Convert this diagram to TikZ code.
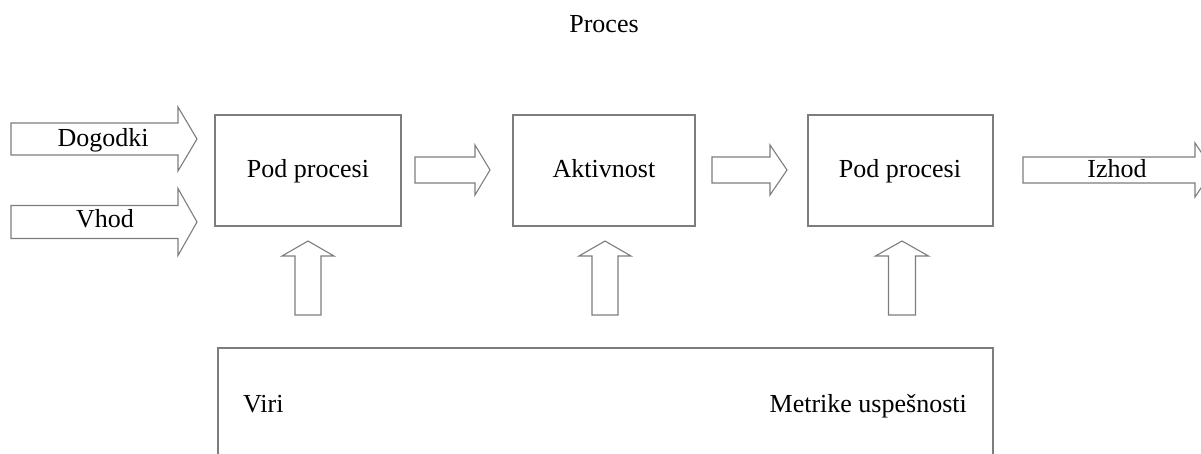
\documentclass[tikz,border=0pt]{standalone}
\usepackage{fontspec}
\setmainfont{Liberation Serif}
\definecolor{edge}{RGB}{125,125,125}
\tikzset{
  blk/.style={draw=edge, line width=1.1pt, fill=white, line join=miter},
  boxnode/.style={draw=edge, line width=1.1pt, fill=white},
  lbl/.style={font=\fontsize{26}{30}\selectfont, inner sep=0pt, anchor=base}
}
% right-pointing block arrow: shaft x0..x1, tip x2, centre y, half shaft, half head
\newcommand\rblock[6]{%
  \draw[blk] (#1,{#4-#5}) -- (#2,{#4-#5}) -- (#2,{#4-#6}) -- (#3,#4)
    -- (#2,{#4+#6}) -- (#2,{#4+#5}) -- (#1,{#4+#5}) -- cycle;}
% upward block arrow: centre x, shaft bottom, head base, tip, half shaft, half head
\newcommand\ublock[6]{%
  \draw[blk] ({#1-#5},#2) -- ({#1-#5},#3) -- ({#1-#6},#3) -- (#1,#4)
    -- ({#1+#6},#3) -- ({#1+#5},#3) -- ({#1+#5},#2) -- cycle;}
\begin{document}
\begin{tikzpicture}[x=1pt,y=-1pt]
  \useasboundingbox (0,0) rectangle (1201,454);

  % title
  \node[lbl] (title) at (604,33) {Proces};

  % inputs
  \rblock{11}{178}{197}{139}{16}{32}
  \node[lbl] (dogodki) at (103,147) {Dogodki};
  \rblock{11}{178}{197}{222}{16.5}{33.5}
  \node[lbl] (vhod) at (105,228) {Vhod};

  % process boxes
  \draw[boxnode] (215,115) rectangle (401,226);
  \coordinate (b1) at (308,170);
  \node[lbl] (t1) at (308,178) {Pod procesi};

  \draw[boxnode] (513,115) rectangle (695,226);
  \coordinate (b2) at (604,170);
  \node[lbl] (t2) at (604,178) {Aktivnost};

  \draw[boxnode] (808,115) rectangle (993,226);
  \coordinate (b3) at (900,170);
  \node[lbl] (t3) at (900,178) {Pod procesi};

  % flow between boxes
  \rblock{415}{475}{490}{170}{13}{25}
  \rblock{712}{770}{787}{170}{13}{25}

  % output
  \rblock{1023}{1195}{1213}{170}{13}{27}
  \node[lbl] (izhod) at (1117,178) {Izhod};

  % resources feeding the boxes
  \ublock{308}{315}{256}{241}{13}{26}
  \ublock{605}{315}{256}{241}{13}{26}
  \ublock{902}{315}{256}{241}{13.5}{26.5}

  % resources / metrics panel (continues below the lower edge)
  \draw[draw=edge, line width=1.1pt] (218,470) -- (218,348) -- (993,348) -- (993,470);
  \node[lbl, anchor=base west] (viri) at (243,412) {Viri};
  \node[lbl, anchor=base east] (metrike) at (967,412) {Metrike uspešnosti};
\end{tikzpicture}
\end{document}
